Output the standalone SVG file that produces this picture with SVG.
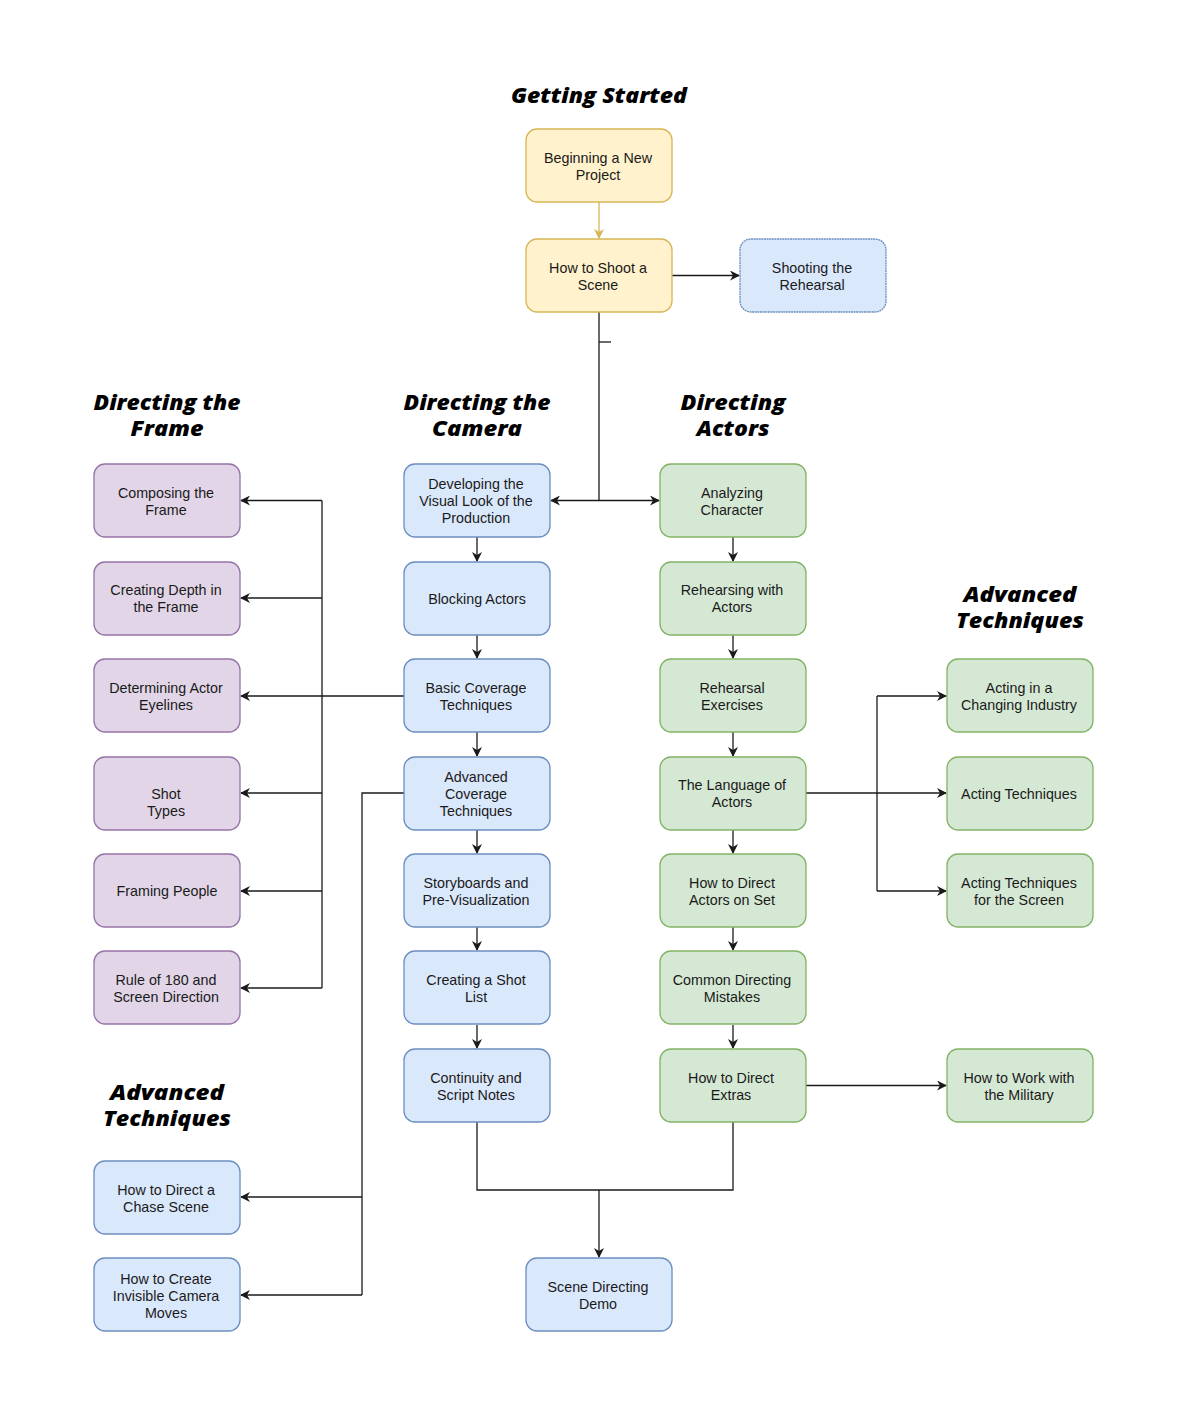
<svg xmlns="http://www.w3.org/2000/svg" width="1200" height="1414" viewBox="0 0 1200 1414">
<style>
.n{stroke-width:1.3}
.y{fill:#fff2cc;stroke:#d6b656}
.b{fill:#dae8fc;stroke:#6c8ebf}
.g{fill:#d5e8d4;stroke:#82b366}
.p{fill:#e1d5e7;stroke:#9673a6}
.t{font-family:"Liberation Sans",Arial,sans-serif;font-size:14.3px;fill:#1a1a1a;text-anchor:middle}
.h{font-family:"Open Sans","Noto Sans",sans-serif;font-size:21px;font-weight:800;font-style:italic;fill:#000;text-anchor:middle}
.c{fill:none;stroke:#1a1a1a;stroke-width:1.3}
</style>
<defs>
<marker id="a" viewBox="0 0 10 10" refX="9" refY="5" markerWidth="10" markerHeight="10" markerUnits="userSpaceOnUse" orient="auto">
<path d="M0,0 L10,5 L0,10 L3,5 z" fill="#1a1a1a"/>
</marker>
<marker id="ay" viewBox="0 0 10 10" refX="9" refY="5" markerWidth="10" markerHeight="10" markerUnits="userSpaceOnUse" orient="auto">
<path d="M0,0 L10,5 L0,10 L3,5 z" fill="#d6b656"/>
</marker>
</defs>
<rect width="1200" height="1414" fill="#fff"/>

<g id="headings">
<text class="h" x="599" y="103" textLength="176" lengthAdjust="spacingAndGlyphs">Getting Started</text>
<text class="h" x="167" y="410" textLength="147" lengthAdjust="spacingAndGlyphs">Directing the</text>
<text class="h" x="167" y="436" textLength="73" lengthAdjust="spacingAndGlyphs">Frame</text>
<text class="h" x="477" y="410" textLength="147" lengthAdjust="spacingAndGlyphs">Directing the</text>
<text class="h" x="477" y="436" textLength="90" lengthAdjust="spacingAndGlyphs">Camera</text>
<text class="h" x="733" y="410" textLength="105" lengthAdjust="spacingAndGlyphs">Directing</text>
<text class="h" x="733" y="436" textLength="73" lengthAdjust="spacingAndGlyphs">Actors</text>
<text class="h" x="1020" y="602" textLength="113" lengthAdjust="spacingAndGlyphs">Advanced</text>
<text class="h" x="1020" y="628" textLength="128" lengthAdjust="spacingAndGlyphs">Techniques</text>
<text class="h" x="167" y="1100" textLength="114" lengthAdjust="spacingAndGlyphs">Advanced</text>
<text class="h" x="167" y="1126" textLength="128" lengthAdjust="spacingAndGlyphs">Techniques</text>
</g>

<g id="connectors">
<path class="c" d="M599,202 V238" style="stroke:#d6b656" marker-end="url(#ay)"/>
<path class="c" d="M672,275.5 H739" marker-end="url(#a)"/>
<path class="c" d="M599,312 V500.5"/>
<path class="c" d="M599,342 H611"/>
<path class="c" d="M599,500.5 H551" marker-end="url(#a)"/>
<path class="c" d="M599,500.5 H659" marker-end="url(#a)"/>
<path class="c" d="M477,537 V561" marker-end="url(#a)"/>
<path class="c" d="M477,635 V658" marker-end="url(#a)"/>
<path class="c" d="M477,732 V756" marker-end="url(#a)"/>
<path class="c" d="M477,830 V853" marker-end="url(#a)"/>
<path class="c" d="M477,927 V950" marker-end="url(#a)"/>
<path class="c" d="M477,1025 V1048" marker-end="url(#a)"/>
<path class="c" d="M733,537 V561" marker-end="url(#a)"/>
<path class="c" d="M733,635 V658" marker-end="url(#a)"/>
<path class="c" d="M733,732 V756" marker-end="url(#a)"/>
<path class="c" d="M733,830 V853" marker-end="url(#a)"/>
<path class="c" d="M733,927 V950" marker-end="url(#a)"/>
<path class="c" d="M733,1025 V1048" marker-end="url(#a)"/>
<path class="c" d="M404,696 H241" marker-end="url(#a)"/>
<path class="c" d="M322,500.5 V988"/>
<path class="c" d="M322,500.5 H241" marker-end="url(#a)"/>
<path class="c" d="M322,598 H241" marker-end="url(#a)"/>
<path class="c" d="M322,793 H241" marker-end="url(#a)"/>
<path class="c" d="M322,891 H241" marker-end="url(#a)"/>
<path class="c" d="M322,988 H241" marker-end="url(#a)"/>
<path class="c" d="M404,793 H362 V1295"/>
<path class="c" d="M362,1197 H241" marker-end="url(#a)"/>
<path class="c" d="M362,1295 H241" marker-end="url(#a)"/>
<path class="c" d="M806,793 H946" marker-end="url(#a)"/>
<path class="c" d="M877,696 V891"/>
<path class="c" d="M877,696 H946" marker-end="url(#a)"/>
<path class="c" d="M877,891 H946" marker-end="url(#a)"/>
<path class="c" d="M806,1085.5 H946" marker-end="url(#a)"/>
<path class="c" d="M477,1122 V1190 H733 V1122"/>
<path class="c" d="M599,1190 V1257" marker-end="url(#a)"/>
</g>

<g id="n-beginning"><rect class="n y" x="526" y="129" width="146" height="73" rx="11"/><text class="t" x="598" y="163">Beginning a New</text><text class="t" x="598" y="180">Project</text></g>
<g id="n-shoot-scene"><rect class="n y" x="526" y="239" width="146" height="73" rx="11"/><text class="t" x="598" y="273">How to Shoot a</text><text class="t" x="598" y="290">Scene</text></g>
<g id="n-shoot-rehearsal"><rect class="n b" x="740" y="239" width="146" height="73" rx="11" stroke-dasharray="2 0.6"/><text class="t" x="812" y="273">Shooting the</text><text class="t" x="812" y="290">Rehearsal</text></g>

<g id="n-composing"><rect class="n p" x="94" y="464" width="146" height="73" rx="11"/><text class="t" x="166" y="498">Composing the</text><text class="t" x="166" y="515">Frame</text></g>
<g id="n-depth"><rect class="n p" x="94" y="562" width="146" height="73" rx="11"/><text class="t" x="166" y="595">Creating Depth in</text><text class="t" x="166" y="612">the Frame</text></g>
<g id="n-eyelines"><rect class="n p" x="94" y="659" width="146" height="73" rx="11"/><text class="t" x="166" y="693">Determining Actor</text><text class="t" x="166" y="710">Eyelines</text></g>
<g id="n-shot-types"><rect class="n p" x="94" y="757" width="146" height="73" rx="11"/><text class="t" x="166" y="799">Shot</text><text class="t" x="166" y="816">Types</text></g>
<g id="n-framing"><rect class="n p" x="94" y="854" width="146" height="73" rx="11"/><text class="t" x="167" y="896">Framing People</text></g>
<g id="n-rule180"><rect class="n p" x="94" y="951" width="146" height="73" rx="11"/><text class="t" x="166" y="985">Rule of 180 and</text><text class="t" x="166" y="1002">Screen Direction</text></g>

<g id="n-developing"><rect class="n b" x="404" y="464" width="146" height="73" rx="11"/><text class="t" x="476" y="489">Developing the</text><text class="t" x="476" y="506">Visual Look of the</text><text class="t" x="476" y="523">Production</text></g>
<g id="n-blocking"><rect class="n b" x="404" y="562" width="146" height="73" rx="11"/><text class="t" x="477" y="604">Blocking Actors</text></g>
<g id="n-basic-coverage"><rect class="n b" x="404" y="659" width="146" height="73" rx="11"/><text class="t" x="476" y="693">Basic Coverage</text><text class="t" x="476" y="710">Techniques</text></g>
<g id="n-adv-coverage"><rect class="n b" x="404" y="757" width="146" height="73" rx="11"/><text class="t" x="476" y="782">Advanced</text><text class="t" x="476" y="799">Coverage</text><text class="t" x="476" y="816">Techniques</text></g>
<g id="n-storyboards"><rect class="n b" x="404" y="854" width="146" height="73" rx="11"/><text class="t" x="476" y="888">Storyboards and</text><text class="t" x="476" y="905">Pre-Visualization</text></g>
<g id="n-shot-list"><rect class="n b" x="404" y="951" width="146" height="73" rx="11"/><text class="t" x="476" y="985">Creating a Shot</text><text class="t" x="476" y="1002">List</text></g>
<g id="n-continuity"><rect class="n b" x="404" y="1049" width="146" height="73" rx="11"/><text class="t" x="476" y="1083">Continuity and</text><text class="t" x="476" y="1100">Script Notes</text></g>

<g id="n-analyzing"><rect class="n g" x="660" y="464" width="146" height="73" rx="11"/><text class="t" x="732" y="498">Analyzing</text><text class="t" x="732" y="515">Character</text></g>
<g id="n-rehearsing"><rect class="n g" x="660" y="562" width="146" height="73" rx="11"/><text class="t" x="732" y="595">Rehearsing with</text><text class="t" x="732" y="612">Actors</text></g>
<g id="n-rehearsal-ex"><rect class="n g" x="660" y="659" width="146" height="73" rx="11"/><text class="t" x="732" y="693">Rehearsal</text><text class="t" x="732" y="710">Exercises</text></g>
<g id="n-language"><rect class="n g" x="660" y="757" width="146" height="73" rx="11"/><text class="t" x="732" y="790">The Language of</text><text class="t" x="732" y="807">Actors</text></g>
<g id="n-direct-on-set"><rect class="n g" x="660" y="854" width="146" height="73" rx="11"/><text class="t" x="732" y="888">How to Direct</text><text class="t" x="732" y="905">Actors on Set</text></g>
<g id="n-mistakes"><rect class="n g" x="660" y="951" width="146" height="73" rx="11"/><text class="t" x="732" y="985">Common Directing</text><text class="t" x="732" y="1002">Mistakes</text></g>
<g id="n-extras"><rect class="n g" x="660" y="1049" width="146" height="73" rx="11"/><text class="t" x="731" y="1083">How to Direct</text><text class="t" x="731" y="1100">Extras</text></g>

<g id="n-changing-industry"><rect class="n g" x="947" y="659" width="146" height="73" rx="11"/><text class="t" x="1019" y="693">Acting in a</text><text class="t" x="1019" y="710">Changing Industry</text></g>
<g id="n-acting-tech"><rect class="n g" x="947" y="757" width="146" height="73" rx="11"/><text class="t" x="1019" y="799">Acting Techniques</text></g>
<g id="n-acting-screen"><rect class="n g" x="947" y="854" width="146" height="73" rx="11"/><text class="t" x="1019" y="888">Acting Techniques</text><text class="t" x="1019" y="905">for the Screen</text></g>
<g id="n-military"><rect class="n g" x="947" y="1049" width="146" height="73" rx="11"/><text class="t" x="1019" y="1083">How to Work with</text><text class="t" x="1019" y="1100">the Military</text></g>

<g id="n-chase"><rect class="n b" x="94" y="1161" width="146" height="73" rx="11"/><text class="t" x="166" y="1195">How to Direct a</text><text class="t" x="166" y="1212">Chase Scene</text></g>
<g id="n-invisible"><rect class="n b" x="94" y="1258" width="146" height="73" rx="11"/><text class="t" x="166" y="1284">How to Create</text><text class="t" x="166" y="1301">Invisible Camera</text><text class="t" x="166" y="1318">Moves</text></g>
<g id="n-demo"><rect class="n b" x="526" y="1258" width="146" height="73" rx="11"/><text class="t" x="598" y="1292">Scene Directing</text><text class="t" x="598" y="1309">Demo</text></g>
</svg>
